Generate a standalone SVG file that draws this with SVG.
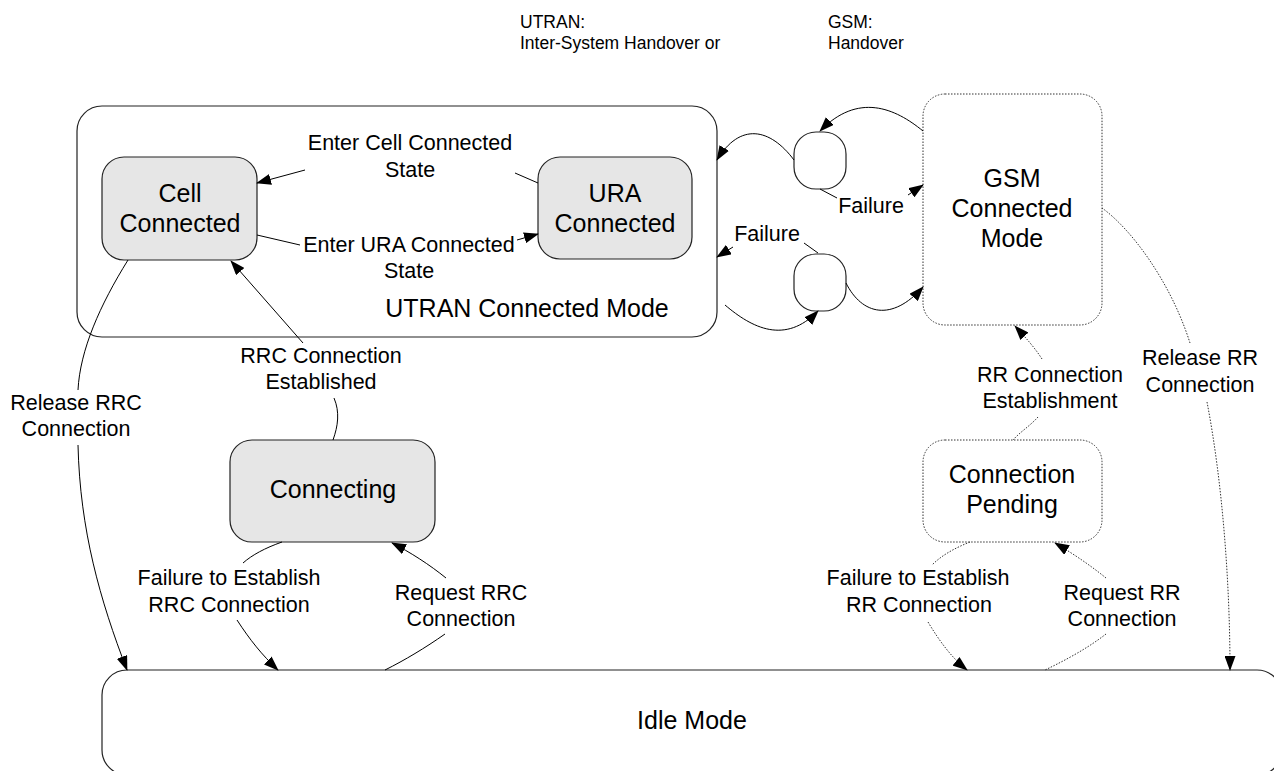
<svg xmlns="http://www.w3.org/2000/svg" width="1274" height="771" viewBox="0 0 1274 771">
<defs>
<marker id="ah" markerUnits="userSpaceOnUse" markerWidth="15" markerHeight="11" refX="14" refY="5.5" orient="auto"><path d="M0,0 L15,5.5 L0,11 z" fill="#000"/></marker>
<style>
.t{font-family:"Liberation Sans",Arial,sans-serif;fill:#000;text-anchor:middle}
.n{font-size:25px}
.l{font-size:21.5px}
.s{font-size:17.5px;text-anchor:start}
.box{fill:#fff;stroke:#222;stroke-width:1.2}
.gray{fill:#e6e6e6;stroke:#222;stroke-width:1.2}
.dot{fill:#fff;stroke:#333;stroke-width:1;stroke-dasharray:1.5 1.5}
.c{fill:none;stroke:#000;stroke-width:1}
.cd{fill:none;stroke:#333;stroke-width:1;stroke-dasharray:1.5 1.5}
</style>
</defs>
<rect width="1274" height="771" fill="#fff"/>
<text class="t s" x="520" y="28">UTRAN:</text>
<text class="t s" x="520" y="49">Inter-System Handover or</text>
<text class="t s" x="828" y="28">GSM:</text>
<text class="t s" x="828" y="49">Handover</text>

<g id="utran-mode"><rect class="box" x="77" y="106" width="640" height="231" rx="25"/><text class="t n" x="527" y="317">UTRAN Connected Mode</text></g>
<g id="cell-connected"><rect class="gray" x="102" y="157" width="155" height="103" rx="22"/><text class="t n" x="180" y="202">Cell</text><text class="t n" x="180" y="232">Connected</text></g>
<g id="ura-connected"><rect class="gray" x="538" y="157" width="154" height="102" rx="22"/><text class="t n" x="615" y="202">URA</text><text class="t n" x="615" y="232">Connected</text></g>
<g id="gsm-mode"><rect class="dot" x="923" y="94" width="179" height="231" rx="22"/><text class="t n" x="1012" y="187">GSM</text><text class="t n" x="1012" y="217">Connected</text><text class="t n" x="1012" y="247">Mode</text></g>
<g id="handover-top"><rect class="box" x="794" y="132" width="52" height="57" rx="22"/></g>
<g id="handover-bottom"><rect class="box" x="794" y="254" width="52" height="57" rx="22"/></g>
<g id="connecting"><rect class="gray" x="230" y="440" width="205" height="102" rx="22"/><text class="t n" x="333" y="498">Connecting</text></g>
<g id="connection-pending"><rect class="dot" x="923" y="440" width="179" height="102" rx="22"/><text class="t n" x="1012" y="483">Connection</text><text class="t n" x="1012" y="513">Pending</text></g>
<g id="idle"><rect class="box" x="102" y="670" width="1180" height="105" rx="25"/><text class="t n" x="692" y="729">Idle Mode</text></g>

<g id="connectors">
<path class="c" d="M515,173 L538,183"/>
<path class="c" d="M305,170 L257,183" marker-end="url(#ah)"/>
<path class="c" d="M257,235 L300,245"/>
<path class="c" d="M517,240 L538,234" marker-end="url(#ah)"/>
<path class="c" d="M303,343 L231,261" marker-end="url(#ah)"/>
<path class="c" d="M334,398 C340,412 338,426 333,440"/>
<path class="c" d="M128,260 C100,305 80,350 78,390"/>
<path class="c" d="M78,445 C80,530 100,600 127,670" marker-end="url(#ah)"/>
<path class="c" d="M282,542 C265,548 252,555 243,563"/>
<path class="c" d="M237,620 C250,640 262,655 278,670" marker-end="url(#ah)"/>
<path class="c" d="M446,578 C430,565 410,552 392,543" marker-end="url(#ah)"/>
<path class="c" d="M445,634 C425,648 405,660 385,670"/>

<path class="c" d="M923,131 C895,108 858,92 820,131" marker-end="url(#ah)"/>
<path class="c" d="M794,160 C770,128 740,122 717,160" marker-end="url(#ah)"/>
<path class="c" d="M820,189 L837,198"/>
<path class="c" d="M908,195 L923,185" marker-end="url(#ah)"/>
<path class="c" d="M804,243 L818,253"/>
<path class="c" d="M733,247 L717,257" marker-end="url(#ah)"/>
<path class="c" d="M725,305 C752,328 785,345 818,311" marker-end="url(#ah)"/>
<path class="c" d="M846,283 C862,315 892,322 923,287" marker-end="url(#ah)"/>

<path class="cd" d="M1042,359 C1035,348 1026,338 1015,326" marker-end="url(#ah)"/>
<path class="cd" d="M1038,417 C1030,426 1020,432 1013,440"/>
<path class="cd" d="M970,542 C955,548 942,555 932,565"/>
<path class="cd" d="M928,622 C940,642 952,658 967,670" marker-end="url(#ah)"/>
<path class="cd" d="M1106,578 C1090,565 1072,553 1055,543" marker-end="url(#ah)"/>
<path class="cd" d="M1106,634 C1088,648 1066,660 1045,670"/>
<path class="cd" d="M1102,208 C1130,228 1170,280 1190,343"/>
<path class="cd" d="M1207,402 C1222,480 1230,580 1230,670" marker-end="url(#ah)"/>
</g>

<g id="labels">
<text class="t l" x="410" y="150">Enter Cell Connected</text>
<text class="t l" x="410" y="177">State</text>
<text class="t l" x="409" y="252">Enter URA Connected</text>
<text class="t l" x="409" y="278">State</text>
<text class="t l" x="321" y="363">RRC Connection</text>
<text class="t l" x="321" y="389">Established</text>
<text class="t l" x="76" y="410">Release RRC</text>
<text class="t l" x="76" y="436">Connection</text>
<text class="t l" x="229" y="585">Failure to Establish</text>
<text class="t l" x="229" y="612">RRC Connection</text>
<text class="t l" x="461" y="600">Request RRC</text>
<text class="t l" x="461" y="626">Connection</text>
<text class="t l" x="871" y="213">Failure</text>
<text class="t l" x="767" y="241">Failure</text>
<text class="t l" x="1050" y="382">RR Connection</text>
<text class="t l" x="1050" y="408">Establishment</text>
<text class="t l" x="1200" y="365">Release RR</text>
<text class="t l" x="1200" y="392">Connection</text>
<text class="t l" x="918" y="585">Failure to Establish</text>
<text class="t l" x="919" y="612">RR Connection</text>
<text class="t l" x="1122" y="600">Request RR</text>
<text class="t l" x="1122" y="626">Connection</text>
</g>
</svg>
